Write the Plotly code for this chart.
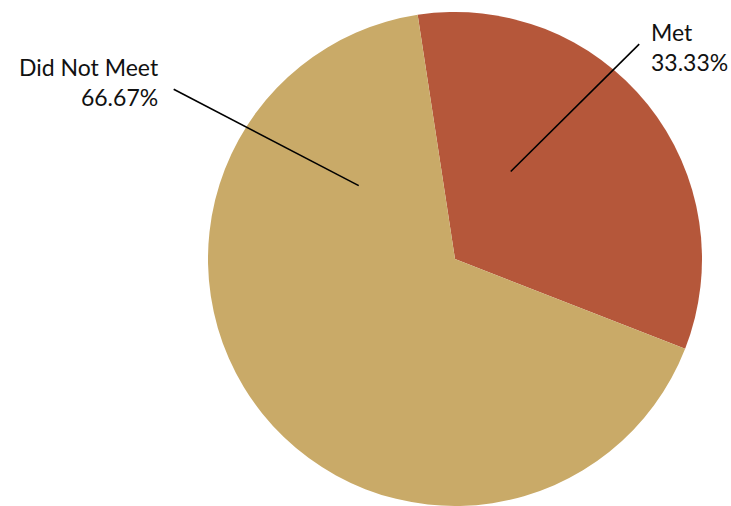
import math
import plotly.graph_objects as go

# Outcome split
labels = ["Met", "Did Not Meet"]
values = [1, 2]
colors = ["#B5573A", "#C9AA68"]

W, H = 731, 506
# Pie geometry in pixels
CX, CY, R = 455, 259, 247
START_ANGLE = -8.7  # first slice begins just left of 12 o'clock, runs clockwise

# Leader line ends (angle clockwise from top, radius as fraction of R)
leaders = {
    "Met": ((32.5, 0.42), (40.6, 1.146)),
    "Did Not Meet": ((307.3, 0.49), (301.1, 1.33)),
}
# Label placement (pixel anchor, xanchor, align)
label_pos = {
    "Met": (649, 47, "left"),
    "Did Not Meet": (161, 82, "right"),
}


def polar(angle, frac):
    a = math.radians(angle)
    return CX + frac * R * math.sin(a), CY - frac * R * math.cos(a)


def px(x):
    return x / W


def py(y):
    return 1 - y / H


fig = go.Figure(
    go.Pie(
        labels=labels,
        values=values,
        marker=dict(colors=colors, line=dict(width=0)),
        sort=False,
        direction="clockwise",
        rotation=START_ANGLE,
        textinfo="none",
        hoverinfo="label+percent",
        domain=dict(x=[px(CX - R), px(CX + R)], y=[py(CY + R), py(CY - R)]),
    )
)

total = sum(values)
annotations = []
shapes = []
for lab, val in zip(labels, values):
    (a0, f0), (a1, f1) = leaders[lab]
    x0, y0 = polar(a0, f0)
    x1, y1 = polar(a1, f1)
    shapes.append(dict(type="line", xref="paper", yref="paper",
                       x0=px(x0), y0=py(y0), x1=px(x1), y1=py(y1),
                       line=dict(color="#000000", width=1.6)))
    tx, ty, side = label_pos[lab]
    annotations.append(dict(
        x=px(tx), y=py(ty), xref="paper", yref="paper",
        xanchor=side, yanchor="middle", align=side, showarrow=False,
        text=f"{lab}<br>{val / total * 100:.2f}%",
        font=dict(family="Lato, sans-serif", size=23, color="#111111"),
    ))

fig.update_layout(
    width=W, height=H,
    margin=dict(l=0, r=0, t=0, b=0),
    paper_bgcolor="white",
    showlegend=False,
    shapes=shapes,
    annotations=annotations,
)

fig.write_html("out.html")
